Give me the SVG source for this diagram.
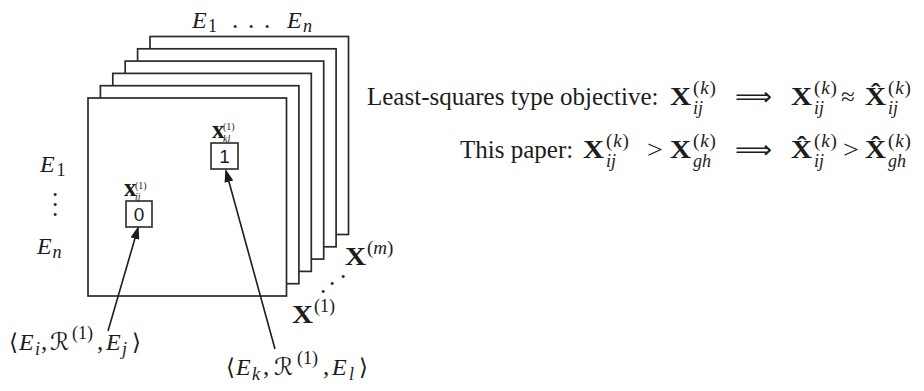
<svg xmlns="http://www.w3.org/2000/svg" width="924" height="391" viewBox="0 0 924 391">
<style>
.t{font-family:"Liberation Serif","DejaVu Serif",serif;font-size:25px;fill:#1c1c1c}
.it{font-style:italic}
.b{font-weight:bold}
.s{font-size:18px}
.sp{font-size:19px;letter-spacing:0.8px}
.xs{font-size:10px}
.sym{font-family:"DejaVu Sans","DejaVu Serif",sans-serif}
.sans{font-family:"Liberation Sans",Arial,sans-serif;font-size:19px;fill:#1c1c1c}
.slice{fill:#fff;stroke:#2a2a2a;stroke-width:1.7}
.cell{fill:#fff;stroke:#2a2a2a;stroke-width:1.6}
.conn{stroke:#1c1c1c;stroke-width:1.6;fill:none}
</style>
<defs>
<marker id="ah" markerUnits="userSpaceOnUse" markerWidth="13" markerHeight="9" refX="11" refY="4.5" orient="auto">
<path d="M0,0 L13,4.5 L0,9 z" fill="#1c1c1c"/>
</marker>
</defs>
<rect width="924" height="391" fill="#fff"/>

<g id="slices">
<rect class="slice" x="150" y="36.5" width="198.5" height="198"/>
<rect class="slice" x="137.6" y="48.8" width="198.5" height="198"/>
<rect class="slice" x="125.2" y="61.1" width="198.5" height="198"/>
<rect class="slice" x="112.8" y="73.4" width="198.5" height="198"/>
<rect class="slice" x="100.4" y="85.7" width="198.5" height="198"/>
<rect class="slice" x="88" y="98" width="198.5" height="198"/>
</g>

<g id="col-labels" class="t">
<text class="it" x="192" y="28" font-size="24">E</text>
<text x="208" y="32" class="s">1</text>
<text x="232 248 264" y="28">...</text>
<text class="it" x="287" y="28" font-size="24">E</text>
<text class="it s" x="303" y="32">n</text>
</g>

<g id="row-labels" class="t">
<text class="it" x="40" y="172" font-size="24">E</text>
<text x="56.5" y="176" class="s">1</text>
<text x="52 52 52" y="196 206 216">...</text>
<text class="it" x="37" y="254" font-size="24">E</text>
<text class="it s" x="52.5" y="258">n</text>
</g>

<g id="slice-labels" class="t">
<text class="b" x="345" y="265" textLength="21" lengthAdjust="spacingAndGlyphs">X</text>
<text x="367" y="254" font-size="19">(<tspan class="it">m</tspan>)</text>
<text x="320 329 340" y="292.5 285 277.5">...</text>
<text class="b" x="292" y="323" textLength="21" lengthAdjust="spacingAndGlyphs">X</text>
<text x="314" y="312" class="s">(1)</text>
</g>

<g id="cell-ij">
<rect class="cell" x="126" y="201" width="26" height="26"/>
<text class="sans" x="139" y="221" text-anchor="middle">0</text>
<text class="t b" x="124" y="196" font-size="16">x</text>
<text class="t xs" x="135" y="188.5">(1)</text>
<text class="t xs it" x="135" y="200">ij</text>
</g>

<g id="cell-kl">
<rect class="cell" x="211" y="143" width="27" height="26"/>
<text class="sans" x="224.5" y="163" text-anchor="middle">1</text>
<text class="t b" x="212" y="138" font-size="16">x</text>
<text class="t xs" x="223" y="129.5">(1)</text>
<text class="t xs it" x="223" y="141.5">kl</text>
</g>

<g id="triple-ij" class="t">
<text x="9" y="350" class="sym" font-size="23">⟨</text>
<text class="it" x="19" y="350" font-size="24">E</text>
<text class="it s" x="35" y="355">i</text>
<text x="41" y="350">,</text>
<text class="sym" x="50" y="350" font-size="24">ℛ</text>
<text x="72" y="339" class="s">(1)</text>
<text x="97" y="350">,</text>
<text class="it" x="106" y="350" font-size="24">E</text>
<text class="it s" x="122" y="355">j</text>
<text x="132" y="350" class="sym" font-size="23">⟩</text>
</g>

<g id="triple-kl" class="t">
<text x="226" y="375" class="sym" font-size="23">⟨</text>
<text class="it" x="236" y="375" font-size="24">E</text>
<text class="it s" x="252" y="380">k</text>
<text x="263" y="375">,</text>
<text class="sym" x="274" y="375" font-size="24">ℛ</text>
<text x="297" y="364" class="s">(1)</text>
<text x="323" y="375">,</text>
<text class="it" x="332" y="375" font-size="24">E</text>
<text class="it s" x="349" y="380">l</text>
<text x="359" y="375" class="sym" font-size="23">⟩</text>
</g>

<g id="connectors">
<line class="conn" x1="108" y1="331" x2="138" y2="228" marker-end="url(#ah)"/>
<line class="conn" x1="275" y1="349" x2="226" y2="171" marker-end="url(#ah)"/>
</g>

<g id="objective-ls" class="t">
<text x="367" y="105">Least-squares type objective:</text>
<text class="b" x="670" y="105" textLength="21" lengthAdjust="spacingAndGlyphs">X</text>
<text x="693" y="94" class="sp">(<tspan class="it">k</tspan>)</text>
<text x="693" y="114" class="s it">ij</text>
<text class="sym" x="735" y="105" textLength="37" lengthAdjust="spacingAndGlyphs">⟹</text>
<text class="b" x="791" y="105" textLength="21" lengthAdjust="spacingAndGlyphs">X</text>
<text x="814" y="94" class="sp">(<tspan class="it">k</tspan>)</text>
<text x="814" y="114" class="s it">ij</text>
<text x="841" y="105">≈</text>
<text class="b" x="865" y="105" textLength="21" lengthAdjust="spacingAndGlyphs">X̂</text>
<text x="888" y="94" class="sp">(<tspan class="it">k</tspan>)</text>
<text x="888" y="114" class="s it">ij</text>
</g>

<g id="objective-paper" class="t">
<text x="460" y="158">This paper:</text>
<text class="b" x="583" y="158" textLength="21" lengthAdjust="spacingAndGlyphs">X</text>
<text x="606" y="147" class="sp">(<tspan class="it">k</tspan>)</text>
<text x="606" y="167" class="s it">ij</text>
<text x="647" y="158" textLength="16" lengthAdjust="spacingAndGlyphs">&gt;</text>
<text class="b" x="670" y="158" textLength="21" lengthAdjust="spacingAndGlyphs">X</text>
<text x="693" y="147" class="sp">(<tspan class="it">k</tspan>)</text>
<text x="693" y="167" class="s it">gh</text>
<text class="sym" x="735" y="158" textLength="37" lengthAdjust="spacingAndGlyphs">⟹</text>
<text class="b" x="791" y="158" textLength="21" lengthAdjust="spacingAndGlyphs">X̂</text>
<text x="814" y="147" class="sp">(<tspan class="it">k</tspan>)</text>
<text x="814" y="167" class="s it">ij</text>
<text x="843" y="158" textLength="16" lengthAdjust="spacingAndGlyphs">&gt;</text>
<text class="b" x="865" y="158" textLength="21" lengthAdjust="spacingAndGlyphs">X̂</text>
<text x="888" y="147" class="sp">(<tspan class="it">k</tspan>)</text>
<text x="888" y="167" class="s it">gh</text>
</g>
</svg>
